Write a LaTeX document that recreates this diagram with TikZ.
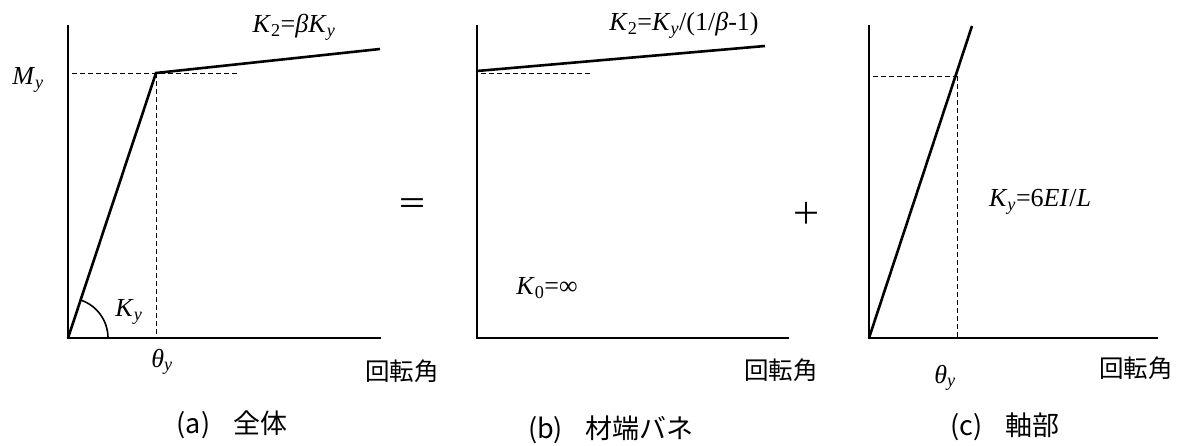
\documentclass[tikz,border=0pt]{standalone}
\usepackage{fontspec}
\setmainfont{Liberation Serif}
\newfontfamily\jp{Noto Sans CJK JP}
\newcommand\ms[1]{\textsubscript{#1}}
\tikzset{
  axis/.style={line width=2.6pt, line cap=rect},
  curve/.style={line width=2.6pt, line join=miter},
  guide/.style={line width=0.9pt, dash pattern=on 5pt off 3pt},
  mlabel/.style={inner sep=0pt, font=\fontsize{26}{28}\selectfont},
  jlabel/.style={inner sep=0pt, font=\jp\fontsize{24.5}{26}\selectfont},
  caption/.style={inner sep=0pt, font=\jp\fontsize{27}{29}\selectfont},
}
\begin{document}
\begin{tikzpicture}[x=1pt,y=-1pt]
\useasboundingbox (0,0) rectangle (1187,446);
% ---------- panel (a)
\coordinate (aO) at (68,338);
\coordinate (aT) at (68,26);
\coordinate (aR) at (380,338);
\coordinate (aY) at (156,73);
\coordinate (aE) at (380,49);
\coordinate (aDh) at (72,73);
\coordinate (aDe) at (237,73);
\coordinate (aDv) at (156,338);
\draw[guide] (aDh) -- (aDe);
\draw[guide] (aY) -- (aDv);
\draw[axis] (aT) -- (aO) -- (aR);
\draw[curve] (aO) -- (aY) -- (aE);
\draw[line width=1.6pt] ([xshift=40pt]aO) arc[start angle=0, end angle=71.6, radius=40pt];
\node[mlabel] (aMy) at (28,80) {\textit{M}\ms{\textit{y}}};
\node[mlabel] (aK2) at (294,27) {\textit{K}\ms{2}=\textit{β}\textit{K}\ms{\textit{y}}};
\node[mlabel] (aKy) at (129,312) {\textit{K}\ms{\textit{y}}};
\node[mlabel] (aTh) at (162,362) {\textit{θ}\ms{\textit{y}}};
\node[jlabel] (aRot) at (402,371) {回転角};
\node[caption] (aCap) at (232,425) {(a)\hspace{0.85em}全体};
% ---------- equals
\node[jlabel,font=\jp\fontsize{30}{32}\selectfont] (eq) at (412,207) {＝};
% ---------- panel (b)
\coordinate (bO) at (477,338);
\coordinate (bT) at (477,26);
\coordinate (bR) at (788,338);
\coordinate (bY) at (477,71);
\coordinate (bE) at (765,46);
\coordinate (bDe) at (591,73);
\coordinate (bDs) at (481,73);
\draw[guide] (bDs) -- (bDe);
\draw[axis] (bT) -- (bO) -- (bR);
\draw[curve] (bY) -- (bE);
\node[mlabel] (bK2) at (684,25) {\textit{K}\ms{2}=\textit{K}\ms{\textit{y}}/(1/\textit{β}-1)};
\node[mlabel] (bK0) at (547,288) {\textit{K}\ms{0}=∞};
\node[jlabel] (bRot) at (781,370) {回転角};
\node[caption] (bCap) at (611,430) {(b)\hspace{0.85em}材端バネ};
% ---------- plus
\node[jlabel,font=\jp\fontsize{30}{32}\selectfont] (plus) at (806,213) {＋};
% ---------- panel (c)
\coordinate (cO) at (869,338);
\coordinate (cT) at (869,26);
\coordinate (cR) at (1157,338);
\coordinate (cE) at (972,26);
\coordinate (cY) at (957,76);
\coordinate (cDh) at (873,76);
\coordinate (cDv) at (957,338);
\draw[guide] (cDh) -- (cY);
\draw[guide] (cY) -- (cDv);
\draw[axis] (cT) -- (cO) -- (cR);
\draw[curve] (cO) -- (cE);
\node[mlabel] (cKy) at (1040,202) {\textit{K}\ms{\textit{y}}=6\textit{EI}/\textit{L}};
\node[mlabel] (cTh) at (945,378) {\textit{θ}\ms{\textit{y}}};
\node[jlabel] (cRot) at (1136,368) {回転角};
\node[caption] (cCap) at (1005,427) {(c)\hspace{0.85em}軸部};
\end{tikzpicture}
\end{document}
